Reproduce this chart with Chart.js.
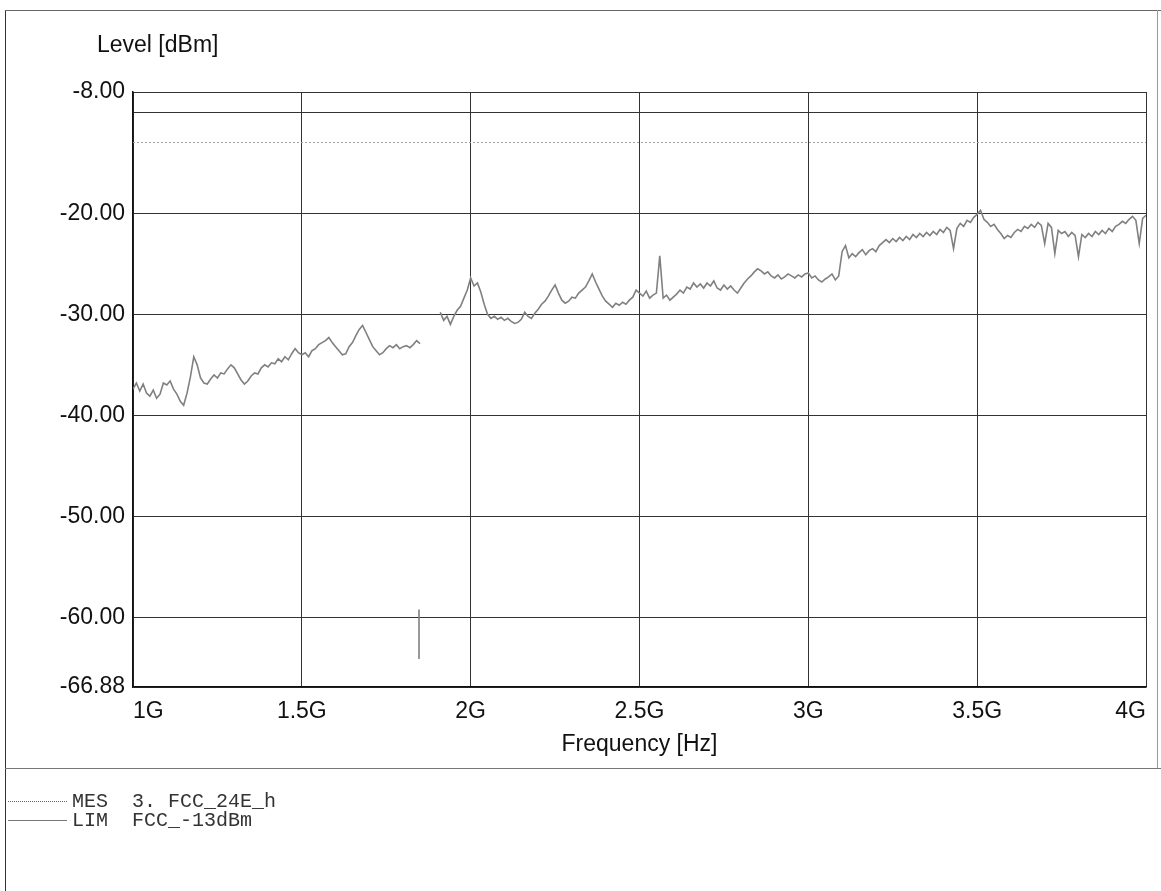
<!DOCTYPE html>
<html>
<head>
<meta charset="utf-8">
<script src="https://cdn.jsdelivr.net/npm/chart.js@4.4.1/dist/chart.umd.min.js"></script>
<style>
html,body{margin:0;padding:0;background:#fff;width:1161px;height:891px;overflow:hidden;}
#wrap{position:relative;width:1161px;height:891px;}
#c{position:absolute;left:0;top:0;}
.fl{position:absolute;left:5px;top:10px;height:881px;border-left:1.5px solid #333;}
.ft{position:absolute;left:5px;top:10px;width:1156px;border-top:1px solid #666;}
.fr{position:absolute;left:1157px;top:10px;height:758px;border-left:1px solid #999;}
.sep{position:absolute;left:5px;top:768px;width:1156px;border-top:1px solid #777;}
#ylab{position:absolute;left:97px;top:31px;font:23px "Liberation Sans",Arial,sans-serif;color:#111;line-height:26px;}
.leg{position:absolute;left:8px;height:20px;font:20px "Liberation Mono","Courier New",monospace;color:#333;white-space:pre;line-height:20px;}
.leg .s{display:inline-block;width:59px;margin-right:5px;vertical-align:middle;height:0;}
</style>
</head>
<body>
<div id="wrap">
<canvas id="c" width="1161" height="891"></canvas>
<div class="fl"></div><div class="ft"></div><div class="fr"></div><div class="sep"></div>
<div id="ylab">Level [dBm]</div>
<div class="leg" style="top:792px"><span class="s" style="border-top:1px dotted #666"></span>MES  3. FCC_24E_h</div>
<div class="leg" style="top:811px"><span class="s" style="border-top:1px solid #777"></span>LIM  FCC_-13dBm</div>
</div>
<script>
// ---- data ----
const xTickValues = [1, 1.5, 2, 2.5, 3, 3.5, 4];
const xTickLabels = ['1G', '1.5G', '2G', '2.5G', '3G', '3.5G', '4G'];
const yTickValues = [-66.88, -60, -50, -40, -30, -20, -10, -8];
const yTickLabels = ['-66.88', '-60.00', '-50.00', '-40.00', '-30.00', '-20.00', '', '-8.00'];

// measurement trace, segment below the notch (GHz / dBm)
const seg1Freq = [1.00,1.01,1.02,1.03,1.04,1.05,1.06,1.07,1.08,1.09,
  1.10,1.11,1.12,1.13,1.14,1.15,1.16,1.17,1.18,1.19,
  1.20,1.21,1.22,1.23,1.24,1.25,1.26,1.27,1.28,1.29,
  1.30,1.31,1.32,1.33,1.34,1.35,1.36,1.37,1.38,1.39,
  1.40,1.41,1.42,1.43,1.44,1.45,1.46,1.47,1.48,1.49,
  1.50,1.51,1.52,1.53,1.54,1.55,1.56,1.57,1.58,1.59,
  1.60,1.61,1.62,1.63,1.64,1.65,1.66,1.67,1.68,1.69,
  1.70,1.71,1.72,1.73,1.74,1.75,1.76,1.77,1.78,1.79,
  1.80,1.81,1.82,1.83,1.84,1.85];
const seg1Level = [-37.4,-36.8,-37.6,-36.9,-37.8,-38.1,-37.5,-38.3,-37.9,-36.8,
  -37.0,-36.6,-37.4,-37.9,-38.6,-39.0,-37.8,-36.2,-34.2,-35.0,
  -36.3,-36.8,-36.9,-36.4,-36.0,-36.3,-35.8,-35.9,-35.4,-35.0,
  -35.3,-35.9,-36.5,-36.9,-36.6,-36.1,-35.8,-35.9,-35.3,-35.0,
  -35.2,-34.8,-34.9,-34.4,-34.7,-34.2,-34.5,-33.9,-33.4,-33.8,
  -34.0,-33.8,-34.2,-33.6,-33.4,-33.0,-32.8,-32.6,-32.3,-32.8,
  -33.2,-33.6,-34.0,-33.9,-33.2,-32.8,-32.1,-31.5,-31.1,-31.8,
  -32.5,-33.2,-33.6,-34.0,-33.8,-33.4,-33.1,-33.3,-33.0,-33.4,
  -33.2,-33.1,-33.3,-33.0,-32.6,-32.9];

// short dip inside the notch
const spikeFreq = [1.847, 1.847];
const spikeLevel = [-59.2, -64.1];

// measurement trace, segment above the notch
const seg2Freq = [1.91,1.92,1.93,1.94,1.95,1.96,1.97,1.98,1.99,
  2.00,2.01,2.02,2.03,2.04,2.05,2.06,2.07,2.08,2.09,
  2.10,2.11,2.12,2.13,2.14,2.15,2.16,2.17,2.18,2.19,
  2.20,2.21,2.22,2.23,2.24,2.25,2.26,2.27,2.28,2.29,
  2.30,2.31,2.32,2.33,2.34,2.35,2.36,2.37,2.38,2.39,
  2.40,2.41,2.42,2.43,2.44,2.45,2.46,2.47,2.48,2.49,
  2.50,2.51,2.52,2.53,2.54,2.55,2.56,2.57,2.58,2.59,
  2.60,2.61,2.62,2.63,2.64,2.65,2.66,2.67,2.68,2.69,
  2.70,2.71,2.72,2.73,2.74,2.75,2.76,2.77,2.78,2.79,
  2.80,2.81,2.82,2.83,2.84,2.85,2.86,2.87,2.88,2.89,
  2.90,2.91,2.92,2.93,2.94,2.95,2.96,2.97,2.98,2.99,
  3.00,3.01,3.02,3.03,3.04,3.05,3.06,3.07,3.08,3.09,
  3.10,3.11,3.12,3.13,3.14,3.15,3.16,3.17,3.18,3.19,
  3.20,3.21,3.22,3.23,3.24,3.25,3.26,3.27,3.28,3.29,
  3.30,3.31,3.32,3.33,3.34,3.35,3.36,3.37,3.38,3.39,
  3.40,3.41,3.42,3.43,3.44,3.45,3.46,3.47,3.48,3.49,
  3.50,3.51,3.52,3.53,3.54,3.55,3.56,3.57,3.58,3.59,
  3.60,3.61,3.62,3.63,3.64,3.65,3.66,3.67,3.68,3.69,
  3.70,3.71,3.72,3.73,3.74,3.75,3.76,3.77,3.78,3.79,
  3.80,3.81,3.82,3.83,3.84,3.85,3.86,3.87,3.88,3.89,
  3.90,3.91,3.92,3.93,3.94,3.95,3.96,3.97,3.98,3.99,
  4.00];
const seg2Level = [-29.8,-30.6,-30.2,-31.0,-30.2,-29.6,-29.2,-28.4,-27.6,
  -26.4,-27.2,-26.9,-27.8,-29.0,-30.0,-30.4,-30.2,-30.5,-30.3,
  -30.6,-30.4,-30.7,-30.9,-30.8,-30.5,-29.8,-30.2,-30.4,-29.9,
  -29.5,-29.0,-28.7,-28.2,-27.6,-27.1,-27.9,-28.6,-28.9,-28.7,
  -28.3,-28.4,-27.9,-27.6,-27.3,-26.7,-26.0,-26.8,-27.5,-28.2,
  -28.7,-29.0,-29.3,-28.9,-29.1,-28.8,-29.0,-28.6,-28.3,-27.6,
  -27.9,-28.2,-27.7,-28.4,-28.1,-27.9,-24.2,-28.4,-28.1,-28.6,
  -28.3,-28.0,-27.6,-27.9,-27.3,-27.5,-26.9,-27.3,-27.0,-27.4,
  -26.9,-27.2,-26.7,-27.4,-27.6,-27.1,-27.5,-27.2,-27.6,-27.9,
  -27.4,-26.9,-26.5,-26.2,-25.8,-25.5,-25.7,-26.0,-25.8,-26.2,
  -26.4,-26.1,-26.5,-26.3,-26.0,-26.2,-26.4,-26.1,-26.3,-26.0,
  -25.9,-26.4,-26.2,-26.6,-26.8,-26.5,-26.3,-26.0,-26.6,-26.2,
  -23.8,-23.2,-24.4,-24.0,-24.3,-23.9,-23.6,-24.1,-23.7,-23.5,
  -23.8,-23.2,-22.9,-22.6,-22.9,-22.5,-22.8,-22.4,-22.7,-22.3,
  -22.6,-22.1,-22.4,-22.0,-22.3,-21.9,-22.2,-21.8,-22.1,-21.6,
  -21.9,-21.4,-21.7,-23.5,-21.5,-21.0,-21.3,-20.7,-20.9,-20.4,
  -20.1,-19.7,-20.6,-20.9,-21.3,-21.1,-21.6,-22.0,-22.5,-22.2,
  -22.4,-21.9,-21.6,-21.8,-21.3,-21.5,-21.1,-21.4,-20.9,-21.2,
  -23.0,-21.0,-21.4,-24.0,-21.7,-22.0,-21.8,-22.3,-21.9,-22.2,
  -24.3,-22.1,-22.4,-22.0,-22.3,-21.8,-22.1,-21.7,-22.0,-21.5,
  -21.8,-21.3,-21.1,-20.8,-21.0,-20.6,-20.3,-20.7,-23.0,-20.5,
  -20.2];

// limit line FCC -13 dBm
const limFreq = [1, 4];
const limLevel = [-13, -13];

// ---- build datasets ----
const toPts = (xs, ys) => xs.map((x, i) => ({x: x, y: ys[i]}));
const measData = [].concat(
  toPts(seg1Freq, seg1Level),
  [{x: seg1Freq[seg1Freq.length - 1], y: null}],
  toPts(spikeFreq, spikeLevel),
  [{x: spikeFreq[0], y: null}],
  toPts(seg2Freq, seg2Level)
);
const limData = toPts(limFreq, limLevel);

const FONT = {family: '"Liberation Sans", Arial, sans-serif', size: 23};

new Chart(document.getElementById('c'), {
  type: 'line',
  data: {
    datasets: [
      {label: 'MES 3. FCC_24E_h', data: measData, borderColor: '#808080', borderWidth: 1.6,
       pointRadius: 0, spanGaps: false, tension: 0},
      {label: 'LIM FCC_-13dBm', data: limData, borderColor: '#a0a0a0', borderWidth: 1,
       borderDash: [2, 2], pointRadius: 0, tension: 0}
    ]
  },
  options: {
    responsive: false,
    animation: false,
    devicePixelRatio: 1,
    layout: {padding: {left: 0, top: 92, right: 15, bottom: 124}},
    plugins: {legend: {display: false}, tooltip: {enabled: false}, title: {display: false}},
    scales: {
      x: {
        type: 'linear', min: 1, max: 4,
        afterBuildTicks: s => { s.ticks = xTickValues.map(v => ({value: v})); },
        afterFit: s => { s.height = 80; },
        ticks: {align: 'inner', padding: 11, color: '#111', font: FONT, maxRotation: 0, autoSkip: false,
                callback: (v, i) => xTickLabels[i]},
        grid: {color: '#333', lineWidth: 1, drawTicks: false},
        border: {color: '#111', width: 1.5},
        title: {display: true, text: 'Frequency [Hz]', color: '#111', font: FONT, padding: {top: 4, bottom: 9}}
      },
      y: {
        min: -66.88, max: -8,
        afterBuildTicks: s => { s.ticks = yTickValues.map(v => ({value: v})); },
        afterFit: s => { s.width = 133; },
        ticks: {padding: 8, color: '#111', font: FONT, autoSkip: false,
                callback: (v, i) => yTickLabels[i]},
        grid: {color: '#333', lineWidth: 1, drawTicks: false},
        border: {color: '#111', width: 1.5}
      }
    }
  }
});
</script>
</body>
</html>
